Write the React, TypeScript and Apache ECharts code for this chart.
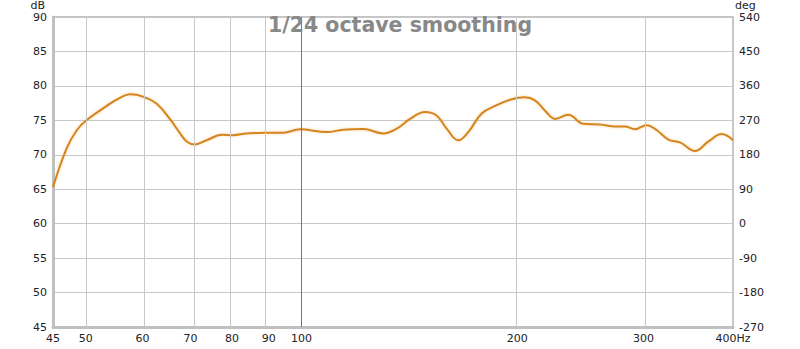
import React, { useEffect, useRef } from "react";
import * as echarts from "echarts";

// Frequency (Hz) and SPL (dB)
const freqs = [45, 47.0, 48.6, 50.1, 53.5, 55.2, 57.7, 60.1, 62.8, 65.5, 67.7, 69.2, 71.0, 73.7, 77.4, 80.3, 83.8, 89.4, 94.3, 99.5, 108.4, 114.4, 122, 130, 135.8, 141.7, 148.7, 154.3, 159.4, 165.5, 170.9, 178.4, 187.2, 195.4, 205, 211.7, 218.7, 225.8, 235.6, 247.3, 261, 273.8, 282.7, 291.9, 303, 312.9, 325, 337.4, 354, 369.4, 385.7, 400];
const spl = [65.3, 70.9, 73.6, 75.0, 77.1, 78.0, 78.8, 78.45, 77.4, 75.2, 73.1, 71.9, 71.5, 72.1, 72.9, 72.85, 73.1, 73.2, 73.2, 73.7, 73.3, 73.65, 73.75, 73.1, 73.8, 75.2, 76.2, 75.7, 73.8, 72.1, 73.3, 76.0, 77.2, 78.0, 78.35, 77.9, 76.4, 75.2, 75.8, 74.5, 74.4, 74.1, 74.1, 73.7, 74.3, 73.6, 72.2, 71.8, 70.55, 71.9, 73.0, 72.1];

const xTicks = [45, 50, 60, 70, 80, 90, 100, 200, 300, 400];
const xGridLines = [50, 60, 70, 80, 90, 200, 300];
const xMajorLine = 100;
const titleText = "1/24 octave smoothing";

export default function App() {
  const ref = useRef<HTMLDivElement>(null);
  useEffect(() => {
    if (!ref.current) return;
    const chart = echarts.init(ref.current, null, { renderer: "svg" });
    const data = freqs.map((f, i) => [Math.log10(f), spl[i]]);
    const font = "DejaVu Sans";
    const labelStyle = { fontFamily: font, fontSize: 11, color: "#222", lineHeight: 11 };
    chart.setOption({
      animation: false,
      backgroundColor: "#fff",
      title: {
        text: titleText,
        left: "center",
        top: 14,
        padding: 0,
        textStyle: { fontFamily: font, fontSize: 20.5, fontWeight: "bold", color: "#888" },
      },
      grid: {
        left: 53,
        right: 67,
        top: 14,
        bottom: 22,
        show: true,
        borderColor: "#c4c4c4",
        borderWidth: 2,
        backgroundColor: "transparent",
      },
      xAxis: {
        type: "value",
        min: Math.log10(45),
        max: Math.log10(400),
        axisLine: { show: true, onZero: false, lineStyle: { color: "#c0c0c0", width: 3 } },
        axisTick: { show: false },
        splitLine: { show: false },
        axisLabel: {
          ...labelStyle,
          margin: 6,
          customValues: xTicks.map((f) => Math.log10(f)),
          formatter: (v: number) => {
            const f = Math.round(Math.pow(10, v));
            return f === 400 ? "400Hz" : String(f);
          },
        },
      },
      yAxis: [
        {
          type: "value",
          min: 45,
          max: 90,
          interval: 5,
          name: "dB",
          nameLocation: "end",
          nameGap: 6,
          nameTextStyle: { ...labelStyle, align: "right", padding: [0, 8, 0, 0] },
          axisLine: { show: true, lineStyle: { color: "#c0c0c0", width: 3 } },
          axisTick: { show: false },
          axisLabel: { ...labelStyle, margin: 6 },
          splitLine: { show: true, lineStyle: { color: "#c8c8c8", width: 1 } },
        },
        {
          type: "value",
          min: -270,
          max: 540,
          interval: 90,
          name: "deg",
          nameLocation: "end",
          nameGap: 6,
          nameTextStyle: { ...labelStyle, align: "left", padding: [0, 0, 0, 2] },
          position: "right",
          axisLine: { show: true, onZero: false, lineStyle: { color: "#c8c8c8", width: 2 } },
          axisTick: { show: false },
          axisLabel: { ...labelStyle, margin: 6 },
          splitLine: { show: false },
        },
      ],
      series: [
        {
          type: "line",
          data,
          z: 1,
          symbol: "none",
          silent: true,
          lineStyle: { opacity: 0 },
          markLine: {
            silent: true,
            symbol: "none",
            label: { show: false },
            data: [
              ...xGridLines.map((f) => ({ xAxis: Math.log10(f), lineStyle: { color: "#c8c8c8", width: 1, type: "solid" } })),
              { xAxis: Math.log10(xMajorLine), lineStyle: { color: "#777", width: 1, type: "solid" } },
            ],
          },
        },
        {
          type: "line",
          data,
          z: 3,
          smooth: 0.4,
          symbol: "none",
          lineStyle: { color: "#d6841c", width: 2, shadowColor: "rgba(240,170,80,0.45)", shadowBlur: 3 },
        },
      ],
    });
    return () => chart.dispose();
  }, []);
  return (
    <div
      ref={ref}
      style={{ position: "fixed", left: 0, top: 0, width: 800, height: 349, background: "#fff" }}
    />
  );
}
